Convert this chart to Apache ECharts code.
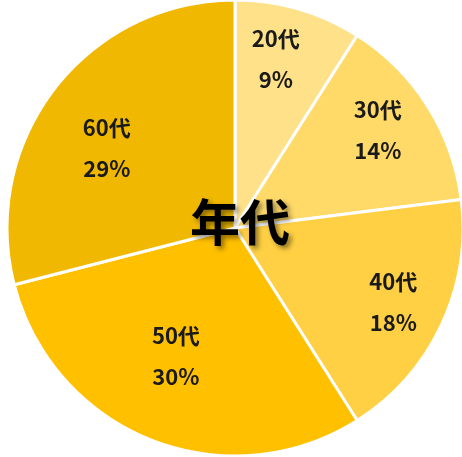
<!DOCTYPE html>
<html>
<head>
<meta charset="utf-8">
<script src="https://cdn.jsdelivr.net/npm/echarts@6/dist/echarts.min.js"></script>
<style>
html,body{margin:0;padding:0;background:#fff;}
#main{width:462px;height:457px;}
</style>
</head>
<body>
<div id="main"></div>
<script>
const categories = ['20代', '30代', '40代', '50代', '60代'];
const values = [9, 14, 18, 30, 29];
const percentLabels = ['9%', '14%', '18%', '30%', '29%'];
const centerTitle = '年代';

const colors = ['#FFE18A', '#FFDA69', '#FFD043', '#FFC000', '#F0B800'];
const outerLabelGroup = [true, true, true, false, false];
// label nudges in px: [dx, dy]
const labelNudges = [[-8, -1], [-5, -4], [0, 0], [-5, -9], [-12, 10]];

const chart = echarts.init(document.getElementById('main'), null, {renderer: 'canvas'});
const font = '"Noto Sans CJK JP", "Noto Sans", sans-serif';

function labelFor(i, show) {
  const dx = labelNudges[i][0], dy = labelNudges[i][1];
  const sp = Math.abs(dy) * 2;
  return {
    show: show,
    position: 'inside',
    padding: [0, dx < 0 ? -dx * 2 : 0, 0, dx > 0 ? dx * 2 : 0],
    formatter: (p) => {
      const body = '{t|' + p.name + '}\n{t|' + percentLabels[p.dataIndex] + '}';
      if (sp === 0) return body;
      return dy > 0 ? '{s| }\n' + body : body + '\n{s| }';
    },
    rich: {
      t: {
        color: '#1a1a1a',
        fontFamily: font,
        fontSize: 22,
        fontWeight: 'bold',
        lineHeight: 41,
        align: 'center'
      },
      s: {fontSize: 1, lineHeight: sp || 1}
    }
  };
}

function overlay(radius, showFn) {
  return {
    type: 'pie',
    silent: true,
    center: [235, 228],
    radius: [0, radius],
    startAngle: 90,
    clockwise: true,
    z: 5,
    itemStyle: {color: 'transparent', borderWidth: 0},
    labelLine: {show: false},
    emphasis: {disabled: true},
    data: categories.map((c, i) => ({
      name: c,
      value: values[i],
      itemStyle: {color: 'transparent'},
      label: labelFor(i, showFn(i))
    }))
  };
}

chart.setOption({
  animation: false,
  backgroundColor: '#ffffff',
  title: {
    text: centerTitle,
    left: 235,
    top: 217,
    textAlign: 'center',
    textVerticalAlign: 'middle',
    textStyle: {
      fontFamily: font,
      fontSize: 50,
      fontWeight: 'bold',
      color: '#000000',
      textShadowColor: 'rgba(0,0,0,0.45)',
      textShadowBlur: 5,
      textShadowOffsetX: 3,
      textShadowOffsetY: 3
    },
    z: 10
  },
  series: [
    {
      type: 'pie',
      center: [235, 228],
      radius: [0, 228],
      startAngle: 90,
      clockwise: true,
      silent: true,
      itemStyle: {borderColor: '#ffffff', borderWidth: 3},
      label: {show: false},
      labelLine: {show: false},
      emphasis: {disabled: true},
      data: categories.map((c, i) => ({
        name: c,
        value: values[i],
        itemStyle: {color: colors[i]}
      }))
    },
    overlay(344, (i) => outerLabelGroup[i]),
    overlay(288, (i) => !outerLabelGroup[i])
  ]
});
</script>
</body>
</html>
